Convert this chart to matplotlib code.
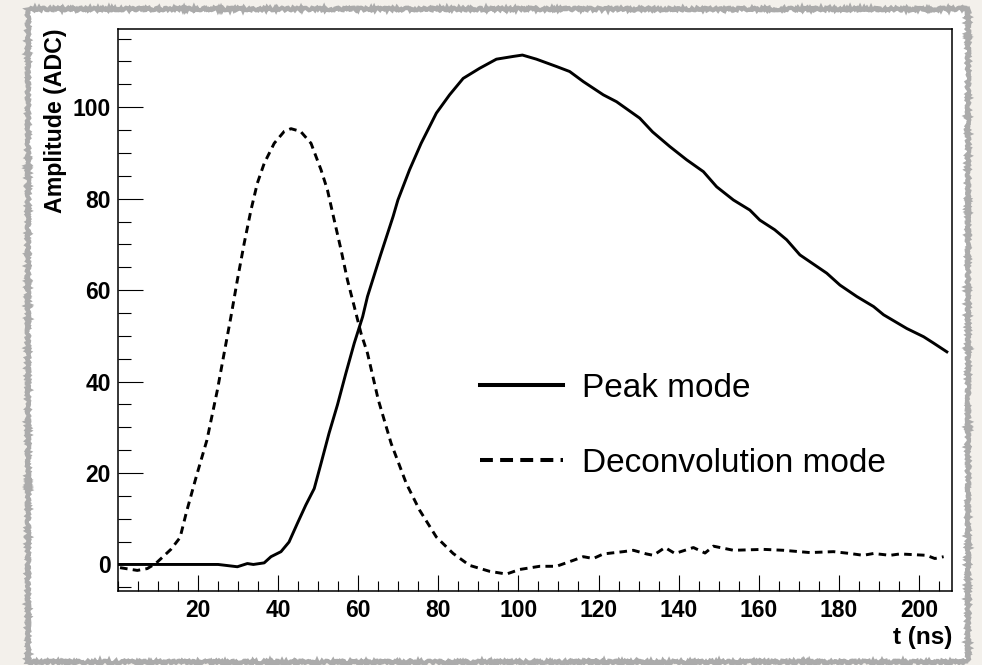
import matplotlib
matplotlib.use("Agg")
import matplotlib.pyplot as plt
from matplotlib.patches import Rectangle
from matplotlib.lines import Line2D
from matplotlib.ticker import MultipleLocator

# Peak mode pulse shape
peak_t = [0, 5, 10, 15, 20, 25, 29.8, 32.3, 33.8, 36.5, 38.2, 40.7, 42.7, 44.8,
          46.9, 49, 50.7, 52.7, 54.8, 56.9, 59, 61.1, 62.3, 65.5, 68.7, 69.9,
          72.8, 75.7, 79.5, 82.8, 86.2, 90.3, 94.5, 98.7, 101, 104.5, 109.5,
          112.8, 116.2, 121.2, 124.5, 130.3, 133.5, 137.8, 142, 146.2, 149.5,
          153.7, 157.8, 160.3, 164, 167, 170.3, 177, 180.3, 184.5, 188.7,
          191.2, 197, 201.2, 203.7, 207]
peak_amp = [0, 0, 0, 0, 0, 0, -0.5, 0.2, 0, 0.35, 1.7, 2.8, 4.9, 9.0,
            13.0, 16.6, 22.1, 28.7, 34.9, 41.8, 48.4, 54.2, 58.6, 67.5, 76.1, 79.7,
            86.3, 92.1, 98.7, 102.7, 106.3, 108.5, 110.5, 111.1, 111.4, 110.5, 108.9,
            107.8, 105.6, 102.7, 101.2, 97.6, 94.6, 91.4, 88.5, 85.9, 82.6,
            79.7, 77.5, 75.3, 73.2, 71.0, 67.7, 63.7, 61.1, 58.6, 56.4,
            54.6, 51.6, 49.8, 48.4, 46.5]

# Deconvolution mode pulse shape
deco_t = [0.5, 4.8, 7.3, 9.4, 13.2, 15.5, 17.1, 19.6, 22.2, 24.8, 26.5, 28.2,
          29.8, 31.5, 33.2, 34.8, 36.5, 39, 41.5, 43.2, 45.6, 48.2, 50.7, 52.3,
          54, 55.7, 57.3, 59, 60.7, 62.3, 65, 68.2, 72, 75.3, 79.5, 83.7, 87.8,
          92.8, 97, 100.3, 105.3, 109.5, 113.7, 116.2, 118.7, 121.2, 126.2,
          128.7, 132, 133.7, 136.6, 139.1, 143.7, 146.6, 148.7, 153.7, 161.2,
          166.2, 172.8, 178.7, 182.8, 186.1, 188.7, 192.8, 195.3, 201.9, 204,
          206.2]
deco_amp = [-0.7, -1.3, -0.9, 0.2, 3.3, 5.9, 11.5, 19.4, 27.2, 38.1, 46.2, 54.2,
            62.2, 70.2, 77.5, 83.4, 87.7, 92.1, 94.7, 95.3, 94.7, 92.1, 86.3, 81.9,
            75.3, 68.8, 62.2, 56.4, 50.5, 46.2, 36, 26.5, 17.7, 11.9, 6.0, 2.4, -0.2,
            -1.5, -2.1, -1.1, -0.4, -0.4, 0.9, 1.7, 1.3, 2.3, 2.8,
            3.1, 2.3, 2.0, 3.7, 2.4, 3.7, 2.5, 4.0, 3.1, 3.3,
            3.1, 2.6, 2.8, 2.4, 2.0, 2.4, 2.0, 2.3, 2.0, 1.3,
            1.7]

labels = ["Peak mode", "Deconvolution mode"]

plt.rcParams['font.family'] = ['Liberation Sans', 'DejaVu Sans']

fig = plt.figure(figsize=(9.82, 6.65), dpi=100)
fig.patch.set_facecolor('#f3f0eb')

# paper-like card behind the plot
card = Rectangle((0.0285, 0.005), 0.957, 0.981, transform=fig.transFigure,
                 facecolor='white', edgecolor='#ababab', linewidth=3.0, zorder=-5)
card.set_sketch_params(scale=1.3, length=3, randomness=4)
fig.patches.append(card)

ax = fig.add_axes([0.1202, 0.1113, 0.8493, 0.8451])
ax.set_zorder(1)
ax.set_facecolor('white')

ax.plot(peak_t, peak_amp, color='black', lw=2.1, solid_joinstyle='round')
ax.plot(deco_t, deco_amp, color='black', lw=2.1, dashes=(2.6, 1.8))

ax.set_xlim(0, 208.3)
ax.set_ylim(-5.8, 117.1)

ax.xaxis.set_major_locator(MultipleLocator(20))
ax.xaxis.set_minor_locator(MultipleLocator(5))
ax.yaxis.set_major_locator(MultipleLocator(20))
ax.yaxis.set_minor_locator(MultipleLocator(5))
ax.set_xticks([20, 40, 60, 80, 100, 120, 140, 160, 180, 200])
ax.set_yticks([0, 20, 40, 60, 80, 100])

ax.tick_params(axis='x', which='major', direction='in', length=11.5, width=0.8,
               pad=6, top=False, labelsize=16.5)
ax.tick_params(axis='x', which='minor', direction='in', length=7, width=0.8, top=False)
ax.tick_params(axis='y', which='major', direction='in', length=18, width=0.8,
               pad=5, right=False, labelsize=16.5)
ax.tick_params(axis='y', which='minor', direction='in', length=9.5, width=0.8, right=False)
for lab in ax.get_xticklabels() + ax.get_yticklabels():
    lab.set_fontweight('bold')

for sp in ax.spines.values():
    sp.set_linewidth(1.1)

ax.text(-0.0755, 1.0, "Amplitude (ADC)", transform=ax.transAxes, rotation=90,
        ha='center', va='top', fontsize=16.7, fontweight='bold')
ax.text(1.0, -0.0836, "t (ns)", transform=ax.transAxes, ha='right', va='center',
        fontsize=17.5, fontweight='bold')

handles = [Line2D([], [], color='black', lw=2.9),
           Line2D([], [], color='black', lw=2.9, dashes=(3.2, 1.8))]
ax.legend(handles, labels, loc='center left', bbox_to_anchor=(0.434, 0.294),
          frameon=False, fontsize=24, handlelength=2.49, handletextpad=0.56,
          labelspacing=1.32, borderpad=0, borderaxespad=0)

fig.savefig("out.png", dpi=100, facecolor=fig.get_facecolor())
